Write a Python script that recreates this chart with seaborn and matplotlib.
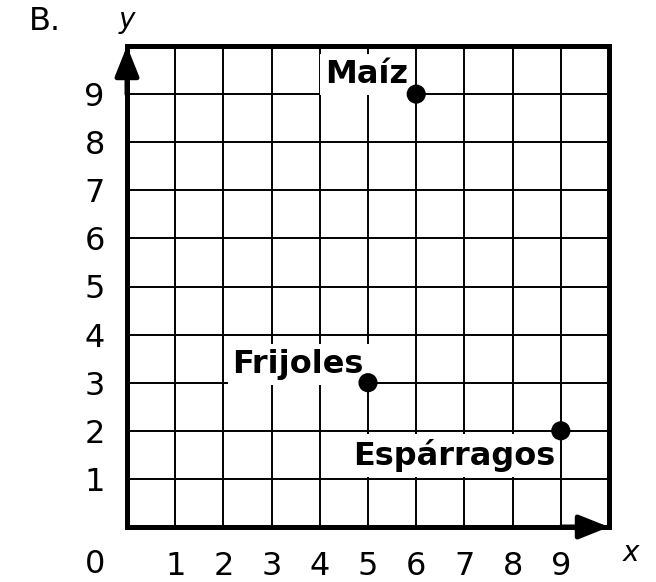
import matplotlib
matplotlib.use('Agg')
import matplotlib.pyplot as plt
import seaborn as sns
import pandas as pd

# data
crops = ['Maíz', 'Frijoles', 'Espárragos']
x_vals = [6, 5, 9]
y_vals = [9, 3, 2]
ticks = [1, 2, 3, 4, 5, 6, 7, 8, 9]

df = pd.DataFrame({'crop': crops, 'x': x_vals, 'y': y_vals})

sns.set_style('white')
plt.rcParams['font.family'] = ['DejaVu Sans']
plt.rcParams['text.color'] = 'black'
plt.rcParams['xtick.labelcolor'] = 'black'
plt.rcParams['ytick.labelcolor'] = 'black'

fig = plt.figure(figsize=(6.56, 5.82), dpi=100)
ax = fig.add_axes([127 / 656, 55 / 582, 482 / 656, 481 / 582])

sns.scatterplot(data=df, x='x', y='y', color='black', s=190, edgecolor='none', ax=ax, zorder=5, clip_on=False)

ax.set_xlim(0, 10)
ax.set_ylim(0, 10)
ax.set_xticks(ticks)
ax.set_yticks(ticks)
ax.set_xticklabels([str(t) for t in ticks], fontsize=23, color='black')
ax.set_yticklabels([str(t) for t in ticks], fontsize=23, color='black')
ax.tick_params(axis='both', length=0)
ax.tick_params(axis='x', pad=17)
ax.tick_params(axis='y', pad=16)
ax.grid(True, color='black', linewidth=1.4)
ax.set_axisbelow(True)
for sp in ax.spines.values():
    sp.set_visible(True)
    sp.set_color('black')
    sp.set_linewidth(3.6)
ax.set_xlabel('')
ax.set_ylabel('')

# arrows on the axes
arr = dict(arrowstyle='-|>,head_length=0.9,head_width=0.36', color='black', lw=3.6,
           mutation_scale=20, shrinkA=0, shrinkB=0)
ax.annotate('', xy=(10, 0), xytext=(9, 0), arrowprops=arr, annotation_clip=False, zorder=6)
ax.annotate('', xy=(0, 10), xytext=(0, 9), arrowprops=arr, annotation_clip=False, zorder=6)

# point labels
box = dict(boxstyle='square,pad=0.15', facecolor='white', edgecolor='none')
offsets = {'Maíz': ((-6, 3), 'bottom'), 'Frijoles': ((-3, 2), 'bottom'), 'Espárragos': ((-4, -6), 'top')}
for c, xv, yv in zip(crops, x_vals, y_vals):
    off, va = offsets[c]
    ax.annotate(c, xy=(xv, yv), xytext=off, textcoords='offset points', ha='right', va=va,
                fontsize=23, fontweight='bold', color='black', bbox=box, zorder=4)

ax.text(-0.66, -0.79, '0', fontsize=23, ha='center', va='center', color='black')
ax.text(10.45, -0.55, 'x', fontsize=20, style='italic', ha='center', va='center', color='black')
ax.text(0, 10.55, 'y', fontsize=20, style='italic', ha='center', va='center', color='black')
fig.text(45 / 656, 1 - 22 / 582, 'B.', fontsize=23, ha='center', va='center', color='black')

fig.savefig('out.png', dpi=100)
